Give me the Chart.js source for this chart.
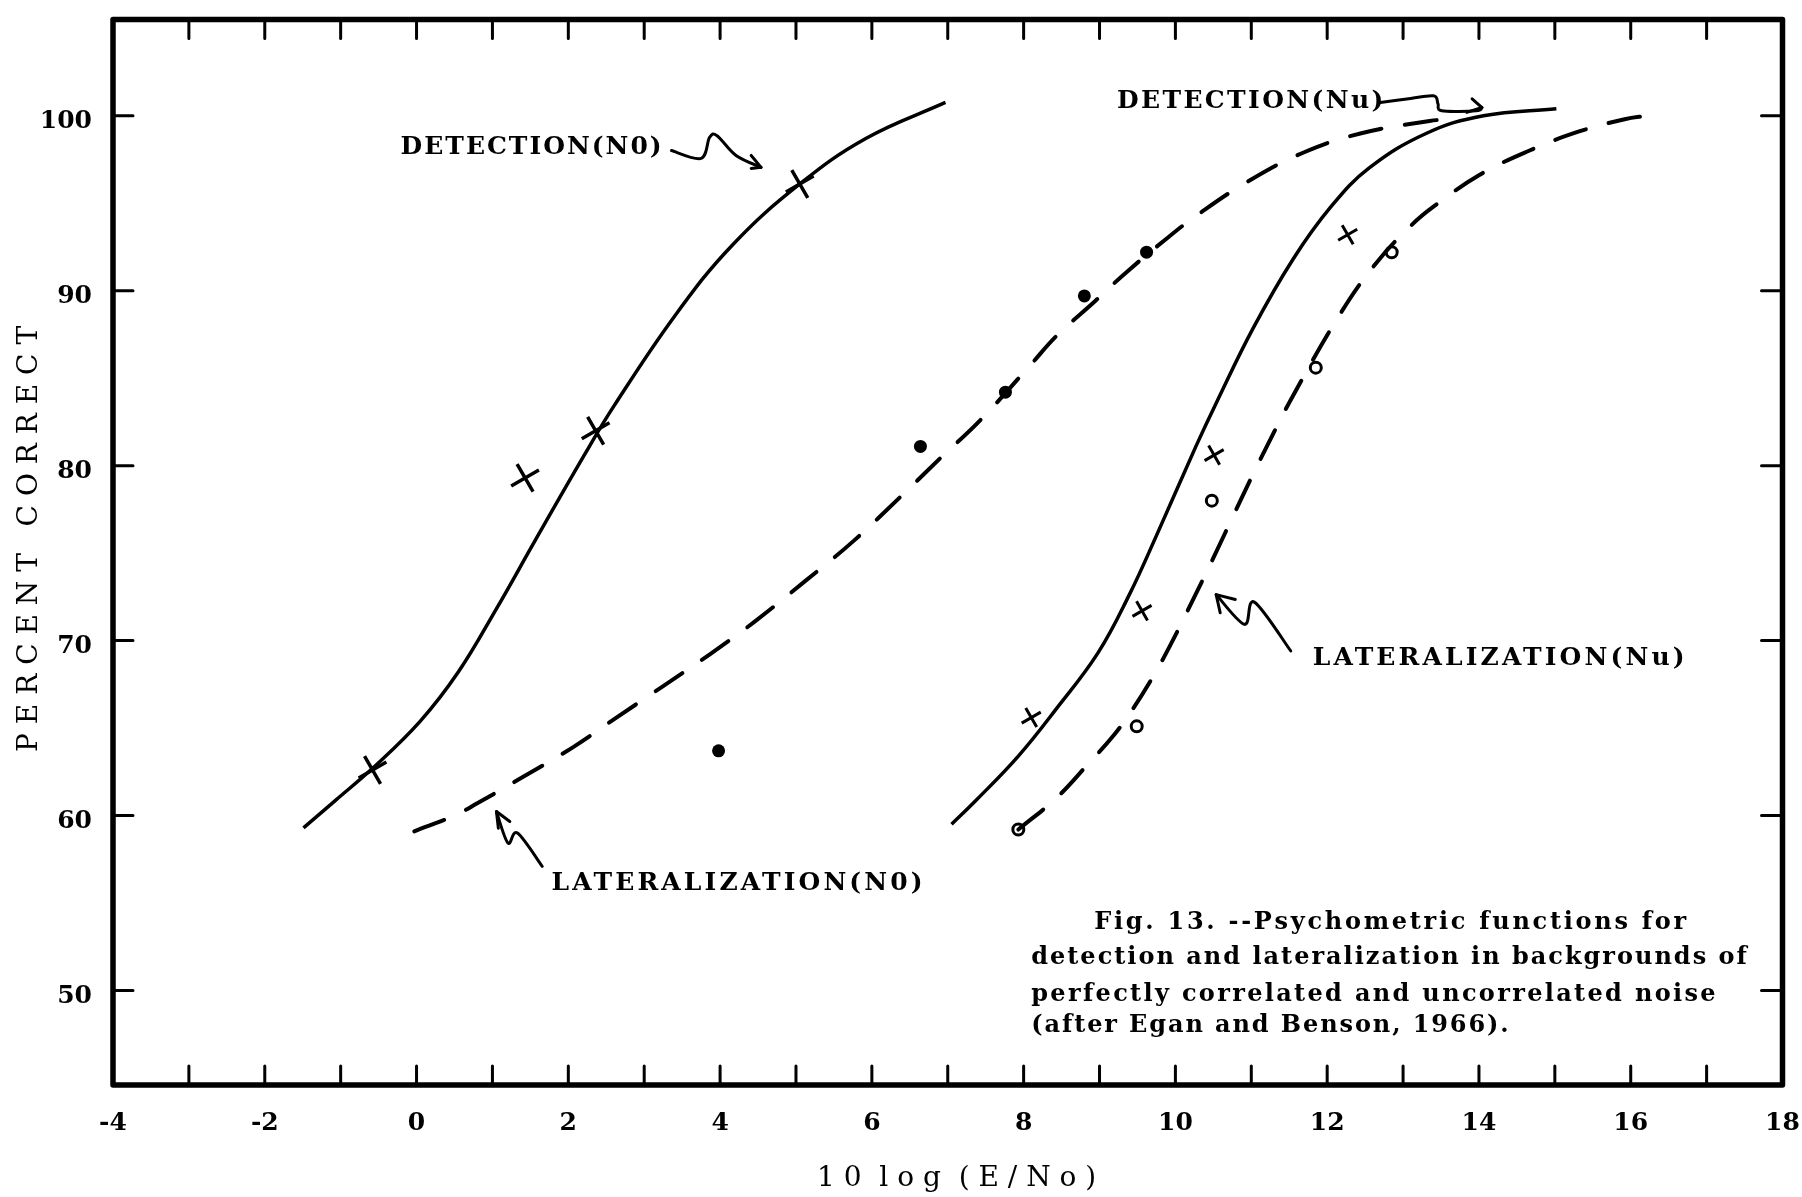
<!DOCTYPE html>
<html>
<head>
<meta charset="utf-8">
<script src="https://cdn.jsdelivr.net/npm/chart.js@4.4.1/dist/chart.umd.min.js"></script>
<style>
  html, body { margin: 0; padding: 0; background: #fff; }
</style>
</head>
<body>
<canvas id="fig13" width="1802" height="1197"></canvas>
<script>
// 坐标轴刻度
const xTickValues = [-4, -2, 0, 2, 4, 6, 8, 10, 12, 14, 16, 18];
const xMarkValues = [-3, -2, -1, 0, 1, 2, 3, 4, 5, 6, 7, 8, 9, 10, 11, 12, 13, 14, 15, 16, 17];
const yTickValues = [50, 60, 70, 80, 90, 100];

// DETECTION (N0)：实线 + 大 X
const detN0CurveX = [-1.49, -1.06, -0.58, 0.05, 0.55, 1.05, 1.56, 2.21, 2.60, 3.41, 4.16, 5.05, 5.92, 6.97];
const detN0CurveY = [59.3, 60.9, 62.7, 65.4, 68.2, 71.8, 75.7, 80.6, 83.4, 88.6, 92.6, 96.1, 98.7, 100.76];
const detN0PointX = [-0.58, 1.43, 2.36, 5.05];
const detN0PointY = [62.6, 79.3, 82.0, 96.1];

// LATERALIZATION (N0)：虚线 + 实心圆点
const latN0CurveX = [-0.03, 0.50, 0.80, 1.40, 2.06, 2.60, 3.25, 3.86, 4.46, 5.12, 5.76, 6.42, 6.92, 7.43, 8.08, 8.43, 8.94, 9.34, 9.89, 10.28, 10.94, 11.69, 12.45, 13.35, 13.65];
const latN0CurveY = [59.1, 60.0, 60.7, 62.2, 63.9, 65.5, 67.4, 69.2, 71.1, 73.4, 75.7, 78.4, 80.5, 82.6, 85.7, 87.4, 89.4, 91.0, 93.0, 94.3, 96.2, 97.9, 99.0, 99.7, 99.8];
const latN0PointX = [3.98, 6.64, 7.76, 8.80, 9.62];
const latN0PointY = [63.7, 81.1, 84.2, 89.7, 92.2];

// DETECTION (Nu)：实线 + 小 x
const detNuCurveX = [7.05, 7.38, 7.93, 8.43, 8.98, 9.39, 9.75, 10.27, 10.54, 11.03, 11.55, 12.05, 12.55, 13.31, 14.06, 15.02];
const detNuCurveY = [59.5, 60.9, 63.4, 66.1, 69.3, 72.6, 76.0, 81.1, 83.6, 87.9, 91.8, 94.8, 97.0, 99.0, 100.0, 100.4];
const detNuPointX = [8.10, 9.56, 10.51, 12.27];
const detNuPointY = [65.6, 71.7, 80.6, 93.2];

// LATERALIZATION (Nu)：虚线 + 空心圆
const latNuCurveX = [7.93, 8.43, 8.84, 9.19, 9.44, 9.70, 9.94, 10.25, 10.53, 10.78, 11.0, 11.24, 11.55, 12.19, 12.65, 13.10, 13.40, 14.0, 14.66, 15.32, 15.92, 16.22];
const latNuCurveY = [59.2, 61.0, 62.9, 64.6, 66.1, 67.9, 69.8, 72.5, 75.0, 77.3, 79.3, 81.4, 84.0, 88.8, 91.6, 93.7, 94.8, 96.6, 98.0, 99.1, 99.8, 100.0];
const latNuPointX = [7.93, 9.49, 10.48, 11.85, 12.85];
const latNuPointY = [59.2, 65.1, 78.0, 85.6, 92.2];

// 曲线标注（数据坐标，x1 为文字右端）
const curveLabels = [
  { text: 'DETECTION(N0)', x: -0.21, x1: 3.23, y: 98.2 },
  { text: 'DETECTION(Nu)', x: 9.23, x1: 12.74, y: 100.8 },
  { text: 'LATERALIZATION(N0)', x: 1.78, x1: 6.67, y: 56.1 },
  { text: 'LATERALIZATION(Nu)', x: 11.81, x1: 16.71, y: 69.0 }
];

// 手绘箭头
const arrowNotes = [
  { path: [[3.36, 98.01], [3.75, 97.56], [3.86, 98.75], [3.96, 98.86], [4.21, 97.73], [4.54, 97.05]],
    head: [[4.41, 97.73], [4.54, 97.05], [4.41, 96.99]] },
  { path: [[12.70, 100.76], [13.05, 100.95], [13.40, 101.14], [13.46, 100.68], [13.51, 100.28], [13.96, 100.28], [14.04, 100.47]],
    head: [[13.91, 100.97], [14.04, 100.47], [13.84, 100.19]] },
  { path: [[1.656, 57.1], [1.33, 59.0], [1.204, 58.43], [1.053, 60.23]],
    head: [[1.078, 59.28], [1.053, 60.23], [1.229, 59.66]] },
  { path: [[11.52, 69.41], [11.04, 72.2], [10.91, 70.93], [10.537, 72.63]],
    head: [[10.59, 71.59], [10.537, 72.63], [10.79, 72.35]] }
];

// 图注
const captionLines = [
  { text: 'Fig. 13. --Psychometric functions for', x: 8.93, x1: 16.73, y: 53.86 },
  { text: 'detection and lateralization in backgrounds of', x: 8.10, x1: 17.53, y: 51.88 },
  { text: 'perfectly correlated and uncorrelated noise', x: 8.10, x1: 17.12, y: 49.77 },
  { text: '(after Egan and Benson, 1966).', x: 8.10, x1: 14.39, y: 48.0 }
];

const toXY = (xs, ys) => xs.map((x, i) => ({ x: x, y: ys[i] }));

function strokeSmooth(ctx, pts) {
  ctx.beginPath();
  ctx.moveTo(pts[0][0], pts[0][1]);
  for (let i = 0; i < pts.length - 1; i++) {
    const p0 = pts[i - 1] || pts[i];
    const p1 = pts[i];
    const p2 = pts[i + 1];
    const p3 = pts[i + 2] || p2;
    ctx.bezierCurveTo(
      p1[0] + (p2[0] - p0[0]) / 6, p1[1] + (p2[1] - p0[1]) / 6,
      p2[0] - (p3[0] - p1[0]) / 6, p2[1] - (p3[1] - p1[1]) / 6,
      p2[0], p2[1]);
  }
  ctx.stroke();
}

function fitText(ctx, text, x0, x1, y) {
  ctx.letterSpacing = '0px';
  const w = ctx.measureText(text).width;
  const gap = (x1 - x0 - w) / (text.length - 1);
  ctx.letterSpacing = gap.toFixed(2) + 'px';
  ctx.fillText(text, x0, y);
  ctx.letterSpacing = '0px';
}

// 边框、向内刻度、标注
const figureDecor = {
  id: 'figureDecor',
  afterDatasetsDraw(chart) {
    const { ctx, chartArea: a, scales: { x, y } } = chart;
    const px = v => x.getPixelForValue(v);
    const py = v => y.getPixelForValue(v);
    const pt = p => [px(p[0]), py(p[1])];

    ctx.save();
    ctx.strokeStyle = '#000';
    ctx.fillStyle = '#000';
    ctx.lineCap = 'round';
    ctx.lineJoin = 'round';

    ctx.lineWidth = 5.5;
    ctx.strokeRect(a.left, a.top, a.right - a.left, a.bottom - a.top);

    ctx.lineWidth = 3;
    ctx.beginPath();
    xMarkValues.forEach(v => {
      const p = px(v);
      ctx.moveTo(p, a.top); ctx.lineTo(p, a.top + 19);
      ctx.moveTo(p, a.bottom); ctx.lineTo(p, a.bottom - 19);
    });
    yTickValues.forEach(v => {
      const p = py(v);
      ctx.moveTo(a.left, p); ctx.lineTo(a.left + 20, p);
      ctx.moveTo(a.right, p); ctx.lineTo(a.right - 21, p);
    });
    ctx.stroke();

    ctx.lineWidth = 3;
    arrowNotes.forEach(n => {
      strokeSmooth(ctx, n.path.map(pt));
      const h = n.head.map(pt);
      ctx.beginPath();
      ctx.moveTo(h[0][0], h[0][1]);
      ctx.lineTo(h[1][0], h[1][1]);
      ctx.lineTo(h[2][0], h[2][1]);
      ctx.stroke();
    });

    ctx.textBaseline = 'middle';
    ctx.textAlign = 'left';
    ctx.font = 'bold 25px "DejaVu Serif"';
    curveLabels.forEach(l => fitText(ctx, l.text, px(l.x), px(l.x1), py(l.y)));

    ctx.font = 'bold 24px "DejaVu Serif"';
    captionLines.forEach(l => fitText(ctx, l.text, px(l.x), px(l.x1), py(l.y)));
    ctx.restore();
  }
};

const solid = { borderColor: '#000', borderWidth: 3.5, pointRadius: 0, showLine: true, tension: 0.4, fill: false };
const dashed = Object.assign({}, solid, { borderWidth: 4, borderDash: [32, 24], borderCapStyle: 'round' });

const ctx = document.getElementById('fig13').getContext('2d');
new Chart(ctx, {
  type: 'scatter',
  data: {
    datasets: [
      Object.assign({ label: 'DETECTION (N0)', data: toXY(detN0CurveX, detN0CurveY) }, solid),
      Object.assign({ label: 'LATERALIZATION (N0)', data: toXY(latN0CurveX, latN0CurveY) }, dashed),
      Object.assign({ label: 'DETECTION (Nu)', data: toXY(detNuCurveX, detNuCurveY) }, solid),
      Object.assign({ label: 'LATERALIZATION (Nu)', data: toXY(latNuCurveX, latNuCurveY) }, dashed),
      {
        label: 'DETECTION (N0) data',
        data: toXY(detN0PointX, detN0PointY),
        pointStyle: 'cross',
        rotation: -30,
        pointRadius: 16,
        borderWidth: 3.5,
        borderColor: '#000'
      },
      {
        label: 'LATERALIZATION (N0) data',
        data: toXY(latN0PointX, latN0PointY),
        pointStyle: 'circle',
        pointRadius: 6.5,
        borderWidth: 0,
        backgroundColor: '#000'
      },
      {
        label: 'DETECTION (Nu) data',
        data: toXY(detNuPointX, detNuPointY),
        pointStyle: 'cross',
        rotation: -30,
        pointRadius: 11,
        borderWidth: 3,
        borderColor: '#000'
      },
      {
        label: 'LATERALIZATION (Nu) data',
        data: toXY(latNuPointX, latNuPointY),
        pointStyle: 'circle',
        pointRadius: 5.5,
        borderWidth: 3,
        borderColor: '#000',
        backgroundColor: '#fff'
      }
    ]
  },
  options: {
    responsive: false,
    devicePixelRatio: 1,
    animation: false,
    layout: { padding: { left: 0, right: 15, top: 13, bottom: 0 } },
    plugins: {
      legend: { display: false },
      tooltip: { enabled: false }
    },
    scales: {
      x: {
        type: 'linear',
        min: -4,
        max: 18,
        afterBuildTicks: s => { s.ticks = xTickValues.map(v => ({ value: v })); },
        afterFit: s => { s.height = 112; s.paddingLeft = 0; s.paddingRight = 0; },
        grid: { display: false, drawTicks: false },
        border: { display: false },
        ticks: {
          padding: 23,
          autoSkip: false,
          maxRotation: 0,
          color: '#000',
          font: { family: 'DejaVu Serif', size: 25, weight: 'bold' }
        },
        title: {
          display: true,
          text: '  1 0  l o g  ( E / N o )',
          color: '#000',
          font: { family: 'DejaVu Serif', size: 28 },
          padding: { top: 0, bottom: 1 }
        }
      },
      y: {
        type: 'linear',
        min: 44.6,
        max: 105.5,
        afterBuildTicks: s => { s.ticks = yTickValues.map(v => ({ value: v })); },
        afterFit: s => { s.width = 113; s.paddingTop = 0; s.paddingBottom = 0; },
        grid: { display: false, drawTicks: false },
        border: { display: false },
        ticks: {
          padding: 21,
          labelOffset: 6,
          color: '#000',
          font: { family: 'DejaVu Serif', size: 25, weight: 'bold' }
        },
        title: {
          display: true,
          text: '   P E R C E N T   C O R R E C T',
          color: '#000',
          font: { family: 'DejaVu Serif', size: 28 },
          padding: { top: 13, bottom: 0 }
        }
      }
    }
  },
  plugins: [figureDecor]
});
</script>
</body>
</html>
